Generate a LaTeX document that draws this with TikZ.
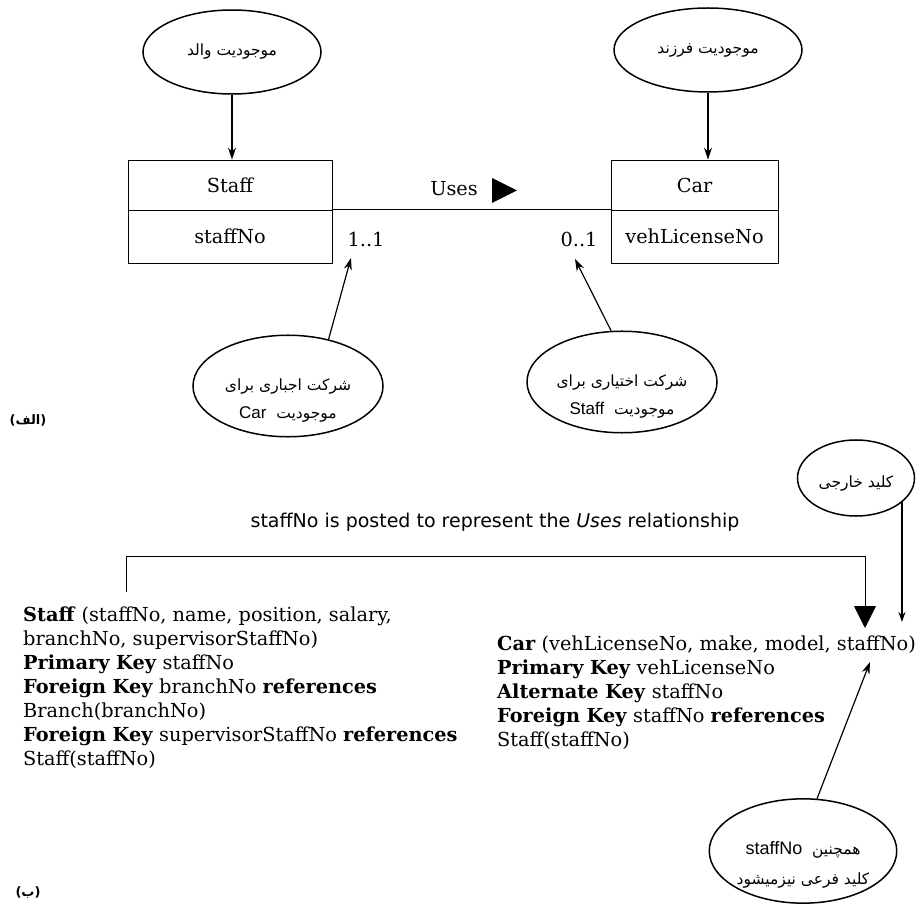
\documentclass[tikz,border=0pt]{standalone}
\usepackage{fontspec}
\setmainfont{DejaVu Serif}
\setsansfont{DejaVu Sans}
\newfontfamily\fa[Script=Arabic]{DejaVu Sans}
\newfontfamily\lsans{Liberation Sans}
\TeXXeTstate=1
\usetikzlibrary{shapes.geometric,arrows.meta}
\begin{document}
\begin{tikzpicture}[x=1pt,y=-1pt,
  font=\fontsize{19.3}{24}\selectfont,
  ell/.style={draw, ellipse, line width=1.5pt, inner sep=0pt, align=center,
    font=\fa\fontsize{15.5}{28}\selectfont},
  cell/.style={draw, line width=0.8pt, rectangle, inner sep=0pt},
  arr/.style={-{Stealth[length=12pt,width=8pt]}, line width=1.2pt},
  rel/.style={anchor=north west, align=left, inner sep=0pt,
    font=\fontsize{19.3}{24}\selectfont},
]
\useasboundingbox (0,0) rectangle (922,917);

% ---------- part (a) ----------
\node[cell, minimum width=204pt, minimum height=50pt] (staffH) at (230,185) {Staff};
\node[cell, minimum width=204pt, minimum height=53pt] (staffK) at (230,236.5) {staffNo};
\node[cell, minimum width=167pt, minimum height=50pt] (carH) at (694.5,185) {Car};
\node[cell, minimum width=167pt, minimum height=53pt] (carK) at (694.5,236.5) {vehLicenseNo};
\draw[line width=0.8pt] (staffK.north east) -- (carK.north west);

\node (uses) at (454,189) {Uses};
\fill (492,178) -- (517,190.5) -- (492,203) -- cycle;
\node (m11) at (366,239) {1..1};
\node (m01) at (579,239) {0..1};

\node[ell, minimum width=178pt, minimum height=84pt] (eP) at (232,52)
  {\beginR موجودیت والد\endR};
\node[ell, minimum width=188pt, minimum height=84pt] (eC) at (708,50)
  {\beginR موجودیت فرزند\endR};
\draw[arr] (eP.south) -- (eP.south |- staffH.north);
\draw[arr] (eC.south) -- (eC.south |- carH.north);

\node[ell, minimum width=190pt, minimum height=92pt] (eM) at (288,386)
  {\rule{0pt}{40pt}\beginR شرکت اجباری برای\endR\\
   \beginR موجودیت \ {\lsans\fontsize{17}{18}\selectfont\beginL Car\endL}\endR};
\node[ell, minimum width=190pt, minimum height=96pt] (eO) at (622,382)
  {\rule{0pt}{40pt}\beginR شرکت اختیاری برای\endR\\
   \beginR موجودیت \ {\lsans\fontsize{17}{18}\selectfont\beginL Staff\endL}\endR};
\coordinate (t11) at (351,258);
\coordinate (t01) at (575,259);
\draw[arr] (eM.49) -- (t11);
\draw[arr] (eO.102) -- (t01);

\node[font=\bfseries\fontsize{13}{14}\selectfont] (la) at (28,420)
  {\sffamily(\fa\beginR الف\endR\sffamily)};

% ---------- part (b) ----------
\node[font=\sffamily\fontsize{19}{22}\selectfont] (posted) at (495,522)
  {staffNo is posted to represent the \textit{Uses} relationship};

\node[rel] (staffRel) at (23,607)
  {\textbf{Staff} (staffNo, name, position, salary,\\
   branchNo, supervisorStaffNo)\\
   \textbf{Primary Key} staffNo\\
   \textbf{Foreign Key} branchNo \textbf{references}\\
   Branch(branchNo)\\
   \textbf{Foreign Key} supervisorStaffNo \textbf{references}\\
   Staff(staffNo)};

\node[rel] (carRel) at (497,636)
  {\textbf{Car} (vehLicenseNo, make, model, staffNo)\\
   \textbf{Primary Key} vehLicenseNo\\
   \textbf{Alternate Key} staffNo\\
   \textbf{Foreign Key} staffNo \textbf{references}\\
   Staff(staffNo)};

\coordinate (pStart) at (126,592);
\coordinate (pTop) at (126,556);
\coordinate (pEnd) at (865,628);
\draw[line width=0.9pt, -{Triangle[length=22pt,width=22pt]}] (pStart) -- (pTop) -| (pEnd);

\node[ell, minimum width=117pt, minimum height=76pt, text height=24pt, text depth=4pt] (eFK) at (856,478)
  {\beginR کلید خارجی\endR};
\coordinate (fkEnd) at (901,622);
\draw[-{Stealth[length=10pt,width=7pt]}, line width=1.2pt] (eFK.-28) -- (eFK.-28 |- fkEnd);

\node[ell, minimum width=183pt, minimum height=98pt, font=\fa\fontsize{15.5}{30}\selectfont] (eB) at (803,851)
  {\rule{0pt}{40pt}\beginR همچنین \ {\lsans\fontsize{18}{18}\selectfont\beginL staffNo\endL}\endR\\
   \beginR کلید فرعی نیزمیشود\endR};
\coordinate (altTip) at (870,662);
\draw[arr] (eB.75) -- (altTip);

\node[font=\bfseries\fontsize{13}{14}\selectfont] (lb) at (28,893)
  {\sffamily(\fa\beginR ب\endR\sffamily)};
\end{tikzpicture}
\end{document}
